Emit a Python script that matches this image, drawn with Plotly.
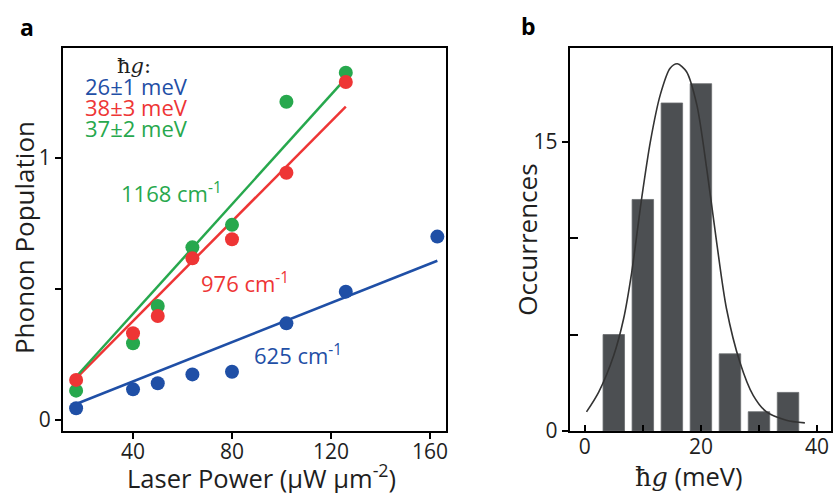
import plotly.graph_objects as go

# ---------------- Panel a data ----------------
power = [17, 40, 50, 64, 80, 102, 126]
power_blue = [17, 40, 50, 64, 80, 102, 126, 163]
pop_625 = [0.045, 0.117, 0.14, 0.174, 0.184, 0.369, 0.49, 0.70]
pop_976 = [0.153, 0.331, 0.397, 0.617, 0.69, 0.944, 1.29]
pop_1168 = [0.112, 0.293, 0.435, 0.659, 0.745, 1.215, 1.326]

fit_x_625 = [17, 163]
fit_y_625 = [0.061, 0.608]
fit_x_976 = [17, 126]
fit_y_976 = [0.159, 1.196]
fit_x_1168 = [17, 126]
fit_y_1168 = [0.165, 1.304]

# ---------------- Panel b data ----------------
hg_bins = [5, 10, 15, 20, 25, 30, 35]
occurrences = [5, 12, 17, 18, 4, 1, 2]
curve_x = [0.3, 2.4, 5.0, 6.7, 8.1, 9.8, 11.3, 13.0, 14.7, 15.95, 17.5, 19.3, 21.0, 22.7, 24.4, 26.7, 29.0, 31.3, 34.7, 37.9]
curve_y = [0.99, 2.02, 3.93, 5.83, 8.25, 12.06, 15.0, 17.42, 18.8, 19.03, 18.63, 16.9, 13.6, 9.8, 6.35, 3.58, 1.85, 0.99, 0.56, 0.42]

BLUE = "#1f4fa6"
RED = "#ee3535"
GREEN = "#27a84d"
SANS = "'Open Sans', Lato, sans-serif"
SERIF = "'DejaVu Serif', 'Liberation Serif', serif"
TXT = "#1e1e1e"

fig = go.Figure()

def dots(x, y, c):
    fig.add_trace(go.Scatter(x=x, y=y, mode="markers", xaxis="x", yaxis="y",
                             marker=dict(size=14, color=c, line=dict(width=0)),
                             showlegend=False, cliponaxis=False))

def fit(x, y, c):
    fig.add_trace(go.Scatter(x=x, y=y, mode="lines", xaxis="x", yaxis="y",
                             line=dict(color=c, width=2.5), showlegend=False))

fit(fit_x_625, fit_y_625, BLUE)
fit(fit_x_976, fit_y_976, RED)
fit(fit_x_1168, fit_y_1168, GREEN)
dots(power_blue, pop_625, BLUE)
dots(power, pop_1168, GREEN)
dots(power, pop_976, RED)

fig.add_trace(go.Bar(x=hg_bins, y=occurrences, width=3.7, xaxis="x2", yaxis="y2",
                     marker=dict(color="#4c4f52", line=dict(color="#6a6c6e", width=0.8)),
                     showlegend=False))
fig.add_trace(go.Scatter(x=curve_x, y=curve_y, mode="lines", xaxis="x2", yaxis="y2",
                         line=dict(color="#333333", width=1.6, shape="spline", smoothing=0.8),
                         showlegend=False))

axis_common = dict(showline=True, linecolor="black", linewidth=2, mirror=True,
                   showgrid=False, zeroline=False, tickcolor="black", tickwidth=2,
                   tickfont=dict(family=SANS, size=21, color=TXT))

fig.update_layout(
    width=834, height=493,
    margin=dict(l=63, r=1, t=48, b=62),
    paper_bgcolor="white", plot_bgcolor="white",
    xaxis=dict(domain=[0, 0.4987], range=[11.7, 166.5], tickvals=[40, 80, 120, 160],
               ticks="outside", ticklen=6, ticklabelstandoff=-5, **axis_common),
    yaxis=dict(domain=[0, 1], range=[-0.042, 1.42], tickvals=[0, 1], ticks="outside", ticklen=6,
               minor=dict(tickvals=[0.5], ticks="outside", ticklen=6, tickwidth=2, tickcolor="black"),
               anchor="x", **axis_common),
    xaxis2=dict(domain=[0.6597, 1.0], range=[-2.6, 42.4], tickvals=[0, 20, 40], ticks="inside", ticklen=6,
                ticklabelstandoff=-4,
                minor=dict(tickvals=[10, 30], ticks="inside", ticklen=6, tickwidth=2, tickcolor="black"),
                anchor="y2", **axis_common),
    yaxis2=dict(domain=[0, 1], range=[0, 19.85], tickvals=[0, 15], ticks="outside", ticklen=6,
                minor=dict(tickvals=[5, 10], ticks="inside", ticklen=8, tickwidth=2, tickcolor="black"),
                anchor="x2", **axis_common),
)

ann = [
    dict(text="ħ<i>g</i>:", x=134, y=66, font=dict(family=SERIF, size=21, color=TXT)),
    dict(text="26±1 meV", x=137, y=86, font=dict(family=SANS, size=22, color=BLUE)),
    dict(text="38±3 meV", x=137, y=107, font=dict(family=SANS, size=22, color=RED)),
    dict(text="37±2 meV", x=137, y=128, font=dict(family=SANS, size=22, color=GREEN)),
    dict(text="1168 cm<sup>-1</sup>", x=172, y=192, font=dict(family=SANS, size=22, color=GREEN)),
    dict(text="976 cm<sup>-1</sup>", x=245, y=282, font=dict(family=SANS, size=22, color=RED)),
    dict(text="625 cm<sup>-1</sup>", x=299, y=354, font=dict(family=SANS, size=22, color=BLUE)),
    dict(text="<b>a</b>", x=27, y=27, font=dict(family=SANS, size=23, color="black")),
    dict(text="<b>b</b>", x=530, y=26, font=dict(family=SANS, size=23, color="black")),
    dict(text="Laser Power (μW μm<sup>-2</sup>)", x=262, y=476, font=dict(family=SANS, size=25.5, color=TXT)),
    dict(text="<span style='font-family:DejaVu Serif'>ħ<i>g</i></span> (meV)", x=691, y=476,
         font=dict(family=SANS, size=25.5, color=TXT)),
]
for a in ann:
    fig.add_annotation(text=a["text"], xref="paper", yref="paper",
                       x=(a["x"] - 63) / 770, y=(431 - a["y"]) / 383,
                       xanchor="center", yanchor="middle", showarrow=False, font=a["font"])

for text, x, y in [("Phonon Population", 24, 238), ("Occurrences", 528, 240)]:
    fig.add_annotation(text=text, xref="paper", yref="paper",
                       x=(x - 63) / 770, y=(431 - y) / 383, textangle=-90,
                       xanchor="center", yanchor="middle", showarrow=False,
                       font=dict(family=SANS, size=26, color=TXT))

fig.write_html("out.html")
